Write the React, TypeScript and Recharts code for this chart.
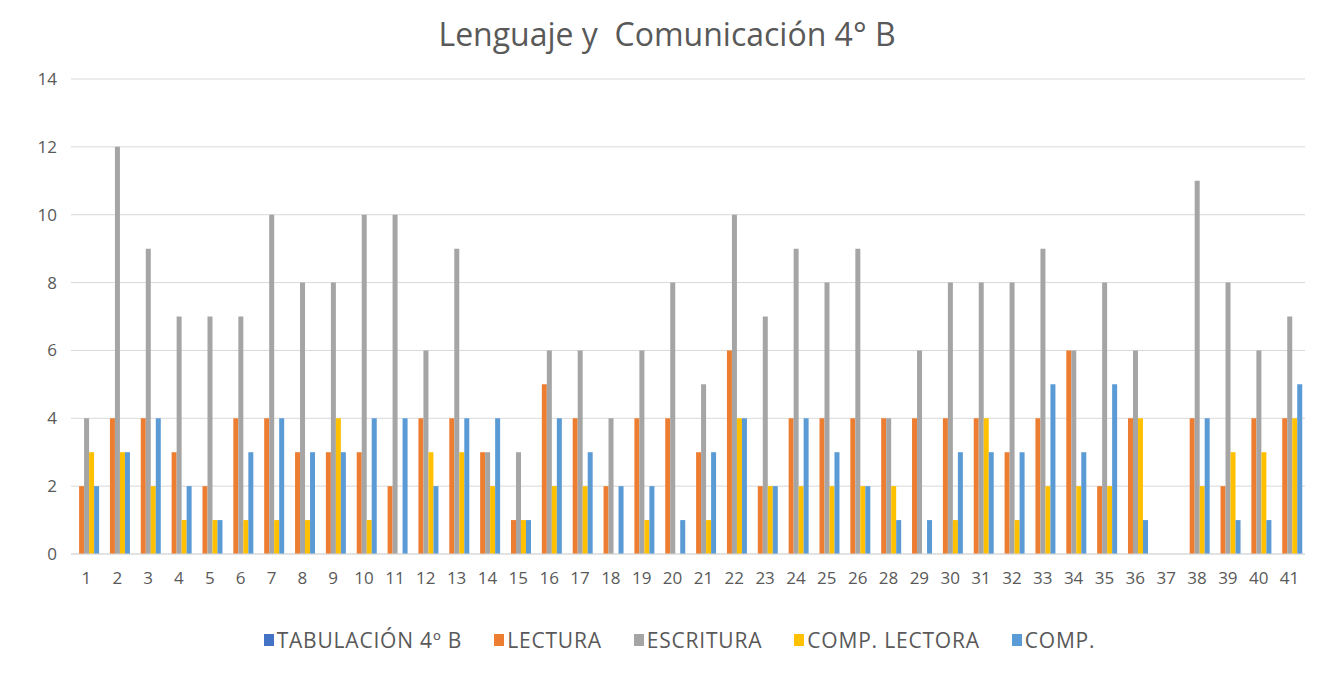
import { BarChart, Bar, XAxis, YAxis, CartesianGrid, Legend } from "recharts";

const categorias = [
  "1", "2", "3", "4", "5", "6", "7", "8", "9", "10",
  "11", "12", "13", "14", "15", "16", "17", "18", "19", "20",
  "21", "22", "23", "24", "25", "26", "28", "29", "30", "31",
  "32", "33", "34", "35", "36", "37", "38", "39", "40", "41",
];

const tabulacion = [
  0, 0, 0, 0, 0, 0, 0, 0, 0, 0,
  0, 0, 0, 0, 0, 0, 0, 0, 0, 0,
  0, 0, 0, 0, 0, 0, 0, 0, 0, 0,
  0, 0, 0, 0, 0, 0, 0, 0, 0, 0,
];
const lectura = [
  2, 4, 4, 3, 2, 4, 4, 3, 3, 3,
  2, 4, 4, 3, 1, 5, 4, 2, 4, 4,
  3, 6, 2, 4, 4, 4, 4, 4, 4, 4,
  3, 4, 6, 2, 4, 0, 4, 2, 4, 4,
];
const escritura = [
  4, 12, 9, 7, 7, 7, 10, 8, 8, 10,
  10, 6, 9, 3, 3, 6, 6, 4, 6, 8,
  5, 10, 7, 9, 8, 9, 4, 6, 8, 8,
  8, 9, 6, 8, 6, 0, 11, 8, 6, 7,
];
const compLectora = [
  3, 3, 2, 1, 1, 1, 1, 1, 4, 1,
  0, 3, 3, 2, 1, 2, 2, 0, 1, 0,
  1, 4, 2, 2, 2, 2, 2, 0, 1, 4,
  1, 2, 2, 2, 4, 0, 2, 3, 3, 4,
];
const comp = [
  2, 3, 4, 2, 1, 3, 4, 3, 3, 4,
  4, 2, 4, 4, 1, 4, 3, 2, 2, 1,
  3, 4, 2, 4, 3, 2, 1, 1, 3, 3,
  3, 5, 3, 5, 1, 0, 4, 1, 1, 5,
];

const yTicks = [0, 2, 4, 6, 8, 10, 12, 14];

const series = [
  { key: "tabulacion", name: "TABULACIÓN 4º B", color: "#4472C4" },
  { key: "lectura", name: "LECTURA", color: "#ED7D31" },
  { key: "escritura", name: "ESCRITURA", color: "#A5A5A5" },
  { key: "compLectora", name: "COMP. LECTORA", color: "#FFC000" },
  { key: "comp", name: "COMP.", color: "#5B9BD5" },
];

const data = categorias.map((c, i) => ({
  cat: c,
  tabulacion: tabulacion[i],
  lectura: lectura[i],
  escritura: escritura[i],
  compLectora: compLectora[i],
  comp: comp[i],
}));

const textColor = "#595959";

function LegendContent() {
  return (
    <div
      style={{
        display: "flex",
        justifyContent: "center",
        gap: 32,
        color: textColor,
        fontSize: 21,
        letterSpacing: 0.8,
        lineHeight: "26px",
        paddingLeft: 54,
      }}
    >
      {series.map((s) => (
        <div key={s.key} style={{ display: "flex", alignItems: "center", gap: 3 }}>
          <span style={{ display: "inline-block", width: 10, height: 12, background: s.color }} />
          <span>{s.name}</span>
        </div>
      ))}
    </div>
  );
}

export default function App() {
  return (
    <div
      style={{
        position: "relative",
        width: 1323,
        height: 673,
        margin: -8,
        background: "#fff",
        fontFamily: '"Open Sans", sans-serif',
        overflow: "hidden",
      }}
    >
      <div
        style={{
          position: "absolute",
          left: 6,
          top: 7,
          width: 1340,
          height: 660,
          border: "1px solid #d9d9d9",
        }}
      />
      <div
        style={{
          position: "absolute",
          top: 14,
          left: 0,
          width: 1334,
          textAlign: "center",
          fontSize: 32,
          lineHeight: "40px",
          color: textColor,
          whiteSpace: "pre",
        }}
      >
        {"Lenguaje y  Comunicación 4° B"}
      </div>
      <div style={{ position: "absolute", top: 0, left: 0 }}>
        <BarChart
          width={1323}
          height={673}
          data={data}
          margin={{ top: 79, right: 18, left: 0, bottom: 20 }}
          barCategoryGap="10%"
          barGap={0}
        >
          <CartesianGrid vertical={false} stroke="#d9d9d9" />
          <XAxis
            dataKey="cat"
            interval={0}
            tickLine={false}
            axisLine={{ stroke: "#d9d9d9" }}
            tick={{ fill: textColor, fontSize: 17 }}
            tickMargin={12}
            height={73}
          />
          <YAxis
            domain={[0, 14]}
            ticks={yTicks}
            width={71}
            axisLine={false}
            tickLine={false}
            tick={{ fill: textColor, fontSize: 17 }}
            tickMargin={8}
          />
          <Legend verticalAlign="bottom" content={<LegendContent />} />
          {series.map((s) => (
            <Bar key={s.key} dataKey={s.key} name={s.name} fill={s.color} isAnimationActive={false} />
          ))}
        </BarChart>
      </div>
    </div>
  );
}
